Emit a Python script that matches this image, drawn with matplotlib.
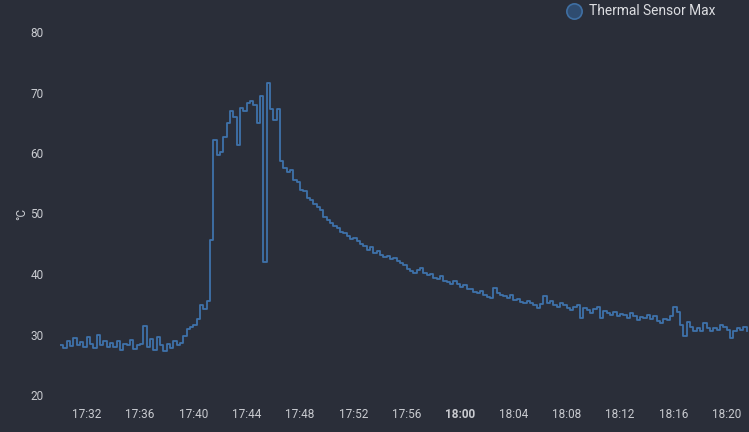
import matplotlib.pyplot as plt
from matplotlib.lines import Line2D
import pandas as pd

# thermal sensor max, one reading every 15 s from 17:30
start = '2024-01-01 17:30:00'
temps = [
    28.3, 27.8, 28.9, 28.1, 29.4, 28.2, 28.8, 27.9,
    29.6, 28.4, 27.7, 29.9, 28.3, 28.9, 27.9, 28.6,
    28.0, 28.9, 27.4, 28.5, 28.2, 29.1, 27.6, 28.3,
    28.4, 31.4, 28.0, 29.2, 27.5, 29.6, 28.3, 27.3,
    28.5, 27.8, 29.0, 28.2, 28.6, 29.8, 30.9, 31.3,
    31.5, 32.6, 34.9, 34.2, 35.6, 45.6, 62.2, 59.6,
    60.1, 62.6, 65.0, 66.9, 66.0, 61.4, 67.5, 66.9,
    68.3, 68.6, 68.0, 65.0, 69.4, 42.0, 71.6, 67.2,
    65.5, 67.2, 58.6, 57.6, 56.8, 57.2, 55.6, 55.2,
    53.9, 53.7, 52.6, 52.2, 51.5, 51.0, 50.6, 49.5,
    49.0, 48.4, 48.0, 47.6, 47.0, 46.7, 46.3, 45.8,
    46.0, 45.4, 45.0, 44.7, 44.0, 44.5, 43.5, 43.8,
    43.2, 42.8, 43.0, 42.5, 42.6, 42.1, 41.8, 41.5,
    40.9, 40.5, 40.1, 40.6, 41.0, 40.2, 39.8, 40.0,
    39.4, 39.2, 39.6, 38.9, 38.6, 38.4, 38.8, 38.3,
    37.9, 38.2, 37.5, 37.6, 37.1, 36.8, 37.2, 36.5,
    36.2, 36.0, 37.7, 36.8, 36.6, 36.3, 36.0, 36.5,
    35.7, 35.9, 35.3, 35.2, 35.5, 35.2, 34.8, 34.4,
    35.0, 36.3, 35.2, 35.6, 34.9, 34.6, 35.2, 34.8,
    34.3, 34.1, 34.6, 34.9, 32.8, 34.3, 34.1, 33.6,
    34.2, 34.6, 32.8, 33.9, 33.5, 33.3, 33.8, 33.1,
    33.4, 33.2, 32.7, 33.5, 33.0, 32.4, 32.9, 32.7,
    33.2, 32.5, 33.0, 32.3, 31.9, 32.6, 32.4, 33.0,
    34.6, 33.8, 31.6, 29.7, 32.1, 31.2, 30.5, 31.0,
    30.5, 31.9, 31.0, 30.5, 31.1, 30.8, 31.6, 31.2,
    30.8, 29.4, 30.6, 31.0, 30.8, 31.3, 30.6,
]
times = pd.date_range(start, periods=len(temps), freq='15s')
tick_labels = ['17:32', '17:36', '17:40', '17:44', '17:48', '17:52', '17:56',
               '18:00', '18:04', '18:08', '18:12', '18:16', '18:20']

bg = '#2a2e39'
line_color = '#3f72aa'
text_color = '#c9cbd0'

fig = plt.figure(figsize=(7.49, 4.32), dpi=100, facecolor=bg)
ax = fig.add_axes([60 / 749, 37 / 432, 689 / 749, 363 / 432])
ax.set_facecolor(bg)
ax.step(times, temps, where='post', color=line_color, linewidth=1.3)

ax.set_ylim(20, 80)
ax.set_yticks(range(20, 81, 10))
ax.set_xlim(pd.Timestamp(start), pd.Timestamp(start) + pd.Timedelta(minutes=51.67))
ticks = [pd.Timestamp('2024-01-01 ' + t) for t in tick_labels]
ax.set_xticks(ticks)
ax.set_xticklabels(tick_labels)
for lbl in ax.get_xticklabels():
    if lbl.get_text() == '18:00':
        lbl.set_fontweight('bold')

for s in ax.spines.values():
    s.set_visible(False)
ax.tick_params(length=0, colors=text_color, labelsize=8.5)
ax.tick_params(axis='y', pad=12)
ax.tick_params(axis='x', pad=9)
for lbl in ax.get_xticklabels() + ax.get_yticklabels():
    lbl.set_fontfamily('Roboto')

# unit label on the left
fig.text(22 / 749, 1 - 214 / 432, '°C', color=text_color, fontsize=8.5,
         fontfamily='Roboto', rotation=90, ha='center', va='center')

# legend top right
fig.add_artist(Line2D([574 / 749], [1 - 11 / 432], marker='o', markersize=11,
                      markerfacecolor='#2f4c70', markeredgecolor='#3f6fa3',
                      markeredgewidth=1.2, transform=fig.transFigure))
fig.text(589 / 749, 1 - 11 / 432, 'Thermal Sensor Max', color='#dcdde1',
         fontsize=9.9, fontfamily='Roboto', va='center', ha='left')

fig.savefig('out.png', dpi=100, facecolor=bg)
